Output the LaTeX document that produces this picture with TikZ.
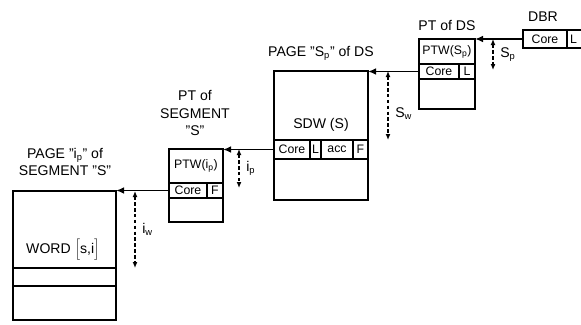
\documentclass[tikz,border=0pt]{standalone}
\usepackage{fontspec}
\setmainfont{Liberation Sans}
\usetikzlibrary{arrows.meta}

\begin{document}
\begin{tikzpicture}[x=0.03cm, y=-0.03cm]
    % Stili
    \tikzset{
        tbl/.style={draw, line width=1.3pt, inner sep=0pt, outer sep=0pt, anchor=north west},
        cell/.style={draw, line width=1.3pt, inner sep=0pt, outer sep=0pt, anchor=north west,
            font=\fontsize{10.5}{12}\selectfont},
        lbl/.style={align=center, inner sep=0pt, font=\fontsize{12}{15}\selectfont},
        ptr/.style={line width=1.5pt, -{Latex[length=2.4mm, width=2mm]}},
        offs/.style={line width=1.1pt, dashed, dash pattern=on 3pt off 2pt,
            {Latex[length=1.8mm, width=1.5mm]}-{Latex[length=1.8mm, width=1.5mm]}}
    }
    \useasboundingbox (0,0) rectangle (581,324);

    % DBR
    \node[cell, minimum width=1.32cm, minimum height=0.54cm] (dbrCore) at (523,30) {Core};
    \node[cell, minimum width=0.84cm, minimum height=0.54cm] (dbrL) at (dbrCore.north east) {\hspace*{-0.45cm}L};
    \node[lbl] (dbrLbl) at (543,17) {DBR};

    % PT del DS
    \node[tbl, minimum width=1.68cm, minimum height=2.1cm] (ptds) at (419,39) {};
    \node[cell, minimum width=1.2cm, minimum height=0.45cm] (ptdsCore) at (419,64) {Core};
    \node[cell, minimum width=0.48cm, minimum height=0.45cm] (ptdsL) at (ptdsCore.north east) {L};
    \node[cell, draw=none, anchor=center] (ptdsPTW) at (447,52) {PTW(S\textsubscript{p})};
    \node[lbl] (ptdsLbl) at (447,25) {PT of DS};

    % pagina S_p del DS
    \node[tbl, minimum width=2.82cm, minimum height=3.87cm] (sdw) at (274,71) {};
    \node[cell, minimum width=1.08cm, minimum height=0.57cm] (sdwCore) at (274,140) {Core};
    \node[cell, minimum width=0.33cm, minimum height=0.57cm] (sdwL) at (sdwCore.north east) {L};
    \node[cell, minimum width=0.96cm, minimum height=0.57cm] (sdwAcc) at (sdwL.north east) {acc};
    \node[cell, minimum width=0.45cm, minimum height=0.57cm] (sdwF) at (sdwAcc.north east) {F};
    \node[lbl] (sdwTxt) at (321,125) {SDW (S)};
    \node[lbl] (sdwLbl) at (321,53) {PAGE "S\textsubscript{p}" of DS};

    % PT del segmento
    \node[tbl, minimum width=1.62cm, minimum height=2.19cm] (pts) at (169,149) {};
    \node[cell, minimum width=1.14cm, minimum height=0.45cm] (ptsCore) at (169,183) {Core};
    \node[cell, minimum width=0.48cm, minimum height=0.45cm] (ptsF) at (ptsCore.north east) {F};
    \node[cell, draw=none, anchor=center] (ptsPTW) at (196,166) {PTW(i\textsubscript{p})};
    \node[lbl] (ptsLbl) at (195,113) {PT of\\SEGMENT\\"S"};

    % pagina del segmento
    \node[tbl, minimum width=3.09cm, minimum height=3.87cm] (page) at (13,191) {};
    \draw[line width=1.3pt] (page.west |- 0,268) -- (page.east |- 0,268);
    \draw[line width=1.3pt] (page.west |- 0,286) -- (page.east |- 0,286);
    \node[lbl] (word) at (63,250) {WORD $\Bigl[$s,i$\Bigr]$};
    \node[lbl] (pageLbl) at (65,162) {PAGE "i\textsubscript{p}" of\\SEGMENT "S"};

    % puntatori
    \draw[ptr] (dbrCore.west) -- (ptds.north east);
    \draw[ptr] (ptdsCore.west) -- (ptdsCore.west -| sdw.east);
    \draw[ptr] (sdwCore.west) -- (sdwCore.west -| pts.east);
    \draw[ptr] (ptsCore.west) -- (ptsCore.west -| page.east);

    % spiazzamenti
    \coordinate (spA) at (493,39);
    \coordinate (spB) at (493,70);
    \draw[offs] (spA) -- node[right=2mm, lbl] {S\textsubscript{p}} (spB);
    \coordinate (swA) at (388,71);
    \coordinate (swB) at (388,140);
    \draw[offs] (swA) -- node[pos=0.62, right=2mm, lbl] {S\textsubscript{w}} (swB);
    \coordinate (ipA) at (239,149);
    \coordinate (ipB) at (239,188);
    \draw[offs] (ipA) -- node[right=2mm, lbl] {i\textsubscript{p}} (ipB);
    \coordinate (iwA) at (135,191);
    \coordinate (iwB) at (135,268);
    \draw[offs] (iwA) -- node[right=2mm, lbl] {i\textsubscript{w}} (iwB);
\end{tikzpicture}
\end{document}
